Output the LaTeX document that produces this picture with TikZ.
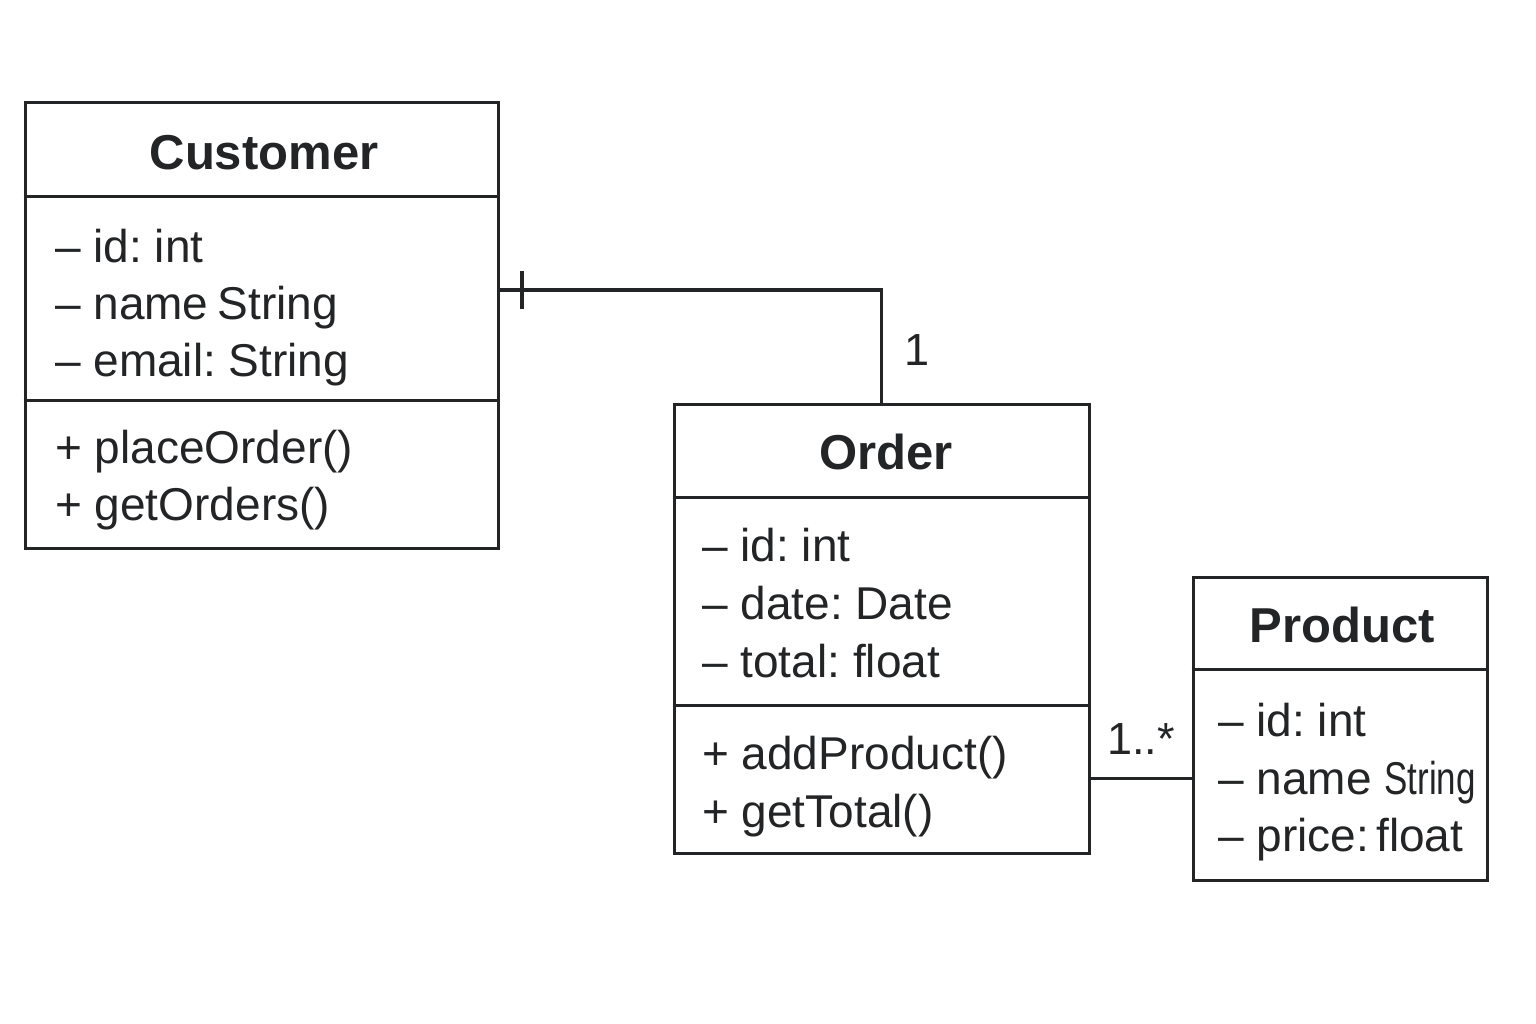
\documentclass[tikz,border=0pt]{standalone}
\usepackage{fontspec}
\setmainfont{Liberation Sans}
\usetikzlibrary{calc}
\frenchspacing
\definecolor{ink}{RGB}{34,36,38}
\tikzset{
  umlbox/.style={draw=ink, line width=3pt, rectangle, inner sep=0pt, fill=white},
  divider/.style={draw=ink, line width=3pt},
  conn/.style={draw=ink, line width=3pt},
  title/.style={anchor=base, inner sep=0pt, text=ink, font=\fontsize{49}{57}\selectfont\bfseries\frenchspacing},
  member/.style={anchor=base west, inner sep=0pt, text=ink, font=\fontsize{46}{57}\selectfont\frenchspacing},
  mult/.style={anchor=base west, inner sep=0pt, text=ink, font=\fontsize{45}{54}\selectfont\frenchspacing},
}
\begin{document}
\begin{tikzpicture}[x=1pt,y=-1pt]
\useasboundingbox (0,0) rectangle (1536,1024);
% boxes
\node[umlbox, minimum width=473pt, minimum height=445pt] (customer) at (261.5,325.5) {};
\node[umlbox, minimum width=415pt, minimum height=449pt] (order) at (881.5,628.5) {};
\node[umlbox, minimum width=294pt, minimum height=303pt] (product) at (1340,728.5) {};
% dividers
\draw[divider] (customer.west |- 0,197) -- (customer.east |- 0,197);
\draw[divider] (customer.west |- 0,400) -- (customer.east |- 0,400);
\draw[divider] (order.west |- 0,497) -- (order.east |- 0,497);
\draw[divider] (order.west |- 0,705) -- (order.east |- 0,705);
\draw[divider] (product.west |- 0,669) -- (product.east |- 0,669);
% Customer texts
\node[title] (ctitle) at (264,170) {Customer};
\node[member] (c1) at (55,262) {– id: int};
\node[member] (c2) at (55,319) {– name\hspace{-0.08em} String};
\node[member] (c3) at (55,376) {– email: String};
\node[member] (c4) at (55,463) {+ placeOrder()};
\node[member] (c5) at (55,520) {+ getOrders()};
% Order texts
\node[title] (otitle) at (886,469) {Order};
\node[member] (o1) at (702,561) {– id: int};
\node[member] (o2) at (702,619) {– date: Date};
\node[member] (o3) at (702,677) {– total: float};
\node[member] (o4) at (702,769) {+ addProduct()};
\node[member] (o5) at (702,827) {+ getTotal()};
% Product texts
\node[title] (ptitle) at (1342,642) {Product};
\node[member] (p1) at (1218,736) {– id: int};
\node[member] (p2) at (1218,794) {– name \scalebox{0.76}[1]{String}};
\node[member] (p3) at (1218,851) {– price:\hspace{-0.12em} float};
% connectors
\coordinate (cEnd) at (customer.east |- 0,290);
\coordinate (tickTop) at (522,271);
\coordinate (tickBot) at (522,309);
\draw[conn] (cEnd) -| (order.north);
\draw[conn, line width=3.5pt] (tickTop) -- (tickBot);
\coordinate (oEnd) at (order.east |- 0,778);
\draw[conn] (oEnd) -- (product.west |- oEnd);
% multiplicities
\node[mult] (m1) at (904,365) {1};
\node[mult] (m2) at (1107,754) {1..*};
\end{tikzpicture}
\end{document}
